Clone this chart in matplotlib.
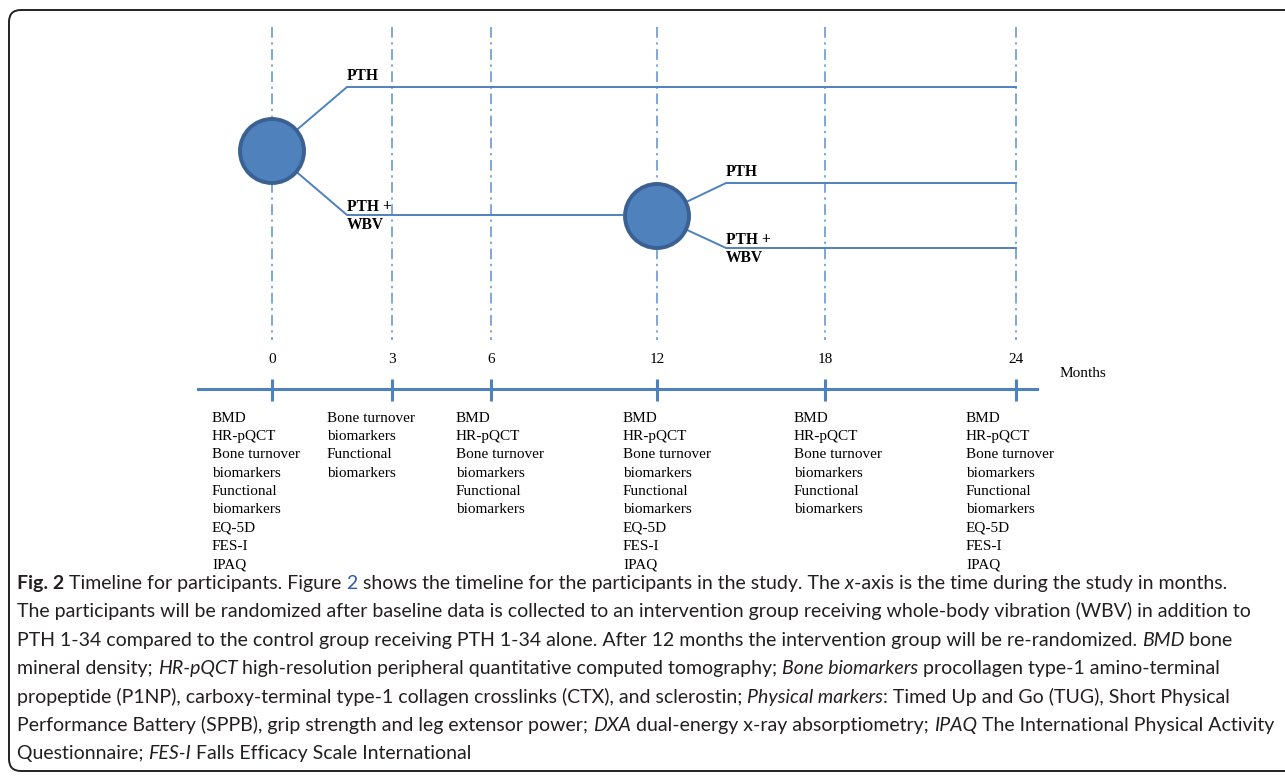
import matplotlib.pyplot as plt
from matplotlib.patches import Circle, FancyBboxPatch
from matplotlib.font_manager import FontProperties

# месяцы на шкале и их положение по горизонтали (в пикселях рисунка)
months = [0, 3, 6, 12, 18, 24]
month_x = [272, 392, 491, 657, 825, 1016]
text_x = [212, 327, 456, 623, 794, 966]

full_set = ['BMD', 'HR-pQCT', 'Bone turnover', 'biomarkers', 'Functional',
            'biomarkers', 'EQ-5D', 'FES-I', 'IPAQ']
short_set = ['BMD', 'HR-pQCT', 'Bone turnover', 'biomarkers', 'Functional',
             'biomarkers']
assessments = [
    full_set,
    ['Bone turnover', 'biomarkers', 'Functional', 'biomarkers'],
    short_set,
    full_set,
    short_set,
    full_set,
]

# рандомизации: месяц и высота кружка
rand_months = [0, 12]
rand_y = [151, 216]

# ветки: (индекс рандомизации, x излома, y ветки, x конца, подпись)
arms = [
    (0, 347, 87, 1016, 'PTH'),
    (0, 347, 215, 622, 'PTH +\nWBV'),
    (1, 726, 183, 1016, 'PTH'),
    (1, 726, 248, 1016, 'PTH +\nWBV'),
]

# подпись к рисунку: строки из кусков (текст, стиль)
caption = [
    [('Fig. 2', 'b'), (' Timeline for participants. Figure ', 'n'), ('2', 'link'),
     (' shows the timeline for the participants in the study. The ', 'n'), ('x', 'i'),
     ('-axis is the time during the study in months.', 'n')],
    [('The participants will be randomized after baseline data is collected to an '
      'intervention group receiving whole-body vibration (WBV) in addition to', 'n')],
    [('PTH 1-34 compared to the control group receiving PTH 1-34 alone. After 12 months '
      'the intervention group will be re-randomized. ', 'n'), ('BMD', 'i'), (' bone', 'n')],
    [('mineral density; ', 'n'), ('HR-pQCT', 'i'),
     (' high-resolution peripheral quantitative computed tomography; ', 'n'),
     ('Bone biomarkers', 'i'), (' procollagen type-1 amino-terminal', 'n')],
    [('propeptide (P1NP), carboxy-terminal type-1 collagen crosslinks (CTX), and sclerostin; ', 'n'),
     ('Physical markers', 'i'), (': Timed Up and Go (TUG), Short Physical', 'n')],
    [('Performance Battery (SPPB), grip strength and leg extensor power; ', 'n'), ('DXA', 'i'),
     (' dual-energy x-ray absorptiometry; ', 'n'), ('IPAQ', 'i'),
     (' The International Physical Activity', 'n')],
    [('Questionnaire; ', 'n'), ('FES-I', 'i'), (' Falls Efficacy Scale International', 'n')],
]

blue = '#4f81bd'
serif = 'Liberation Serif'
cap_font = 'Lato'

fig = plt.figure(figsize=(12.85, 7.76), dpi=100)
ax = fig.add_axes([0, 0, 1, 1])
ax.set_xlim(0, 1285)
ax.set_ylim(776, 0)
ax.axis('off')

# рамка
ax.add_patch(FancyBboxPatch((9, 10), 1300, 761, boxstyle='round,pad=0,rounding_size=12',
                            fill=False, ec='#222222', lw=1.4))

# пунктирные вертикали
ax.vlines(month_x, 27, 340, colors='#5b8fd0', lw=1.1, linestyles=(0, (7, 3, 1.5, 3)))

# ветки лечения
for r, xe, y, xend, label in arms:
    cx = month_x[months.index(rand_months[r])]
    cy = rand_y[r]
    ax.plot([cx, xe, xend], [cy, y, y], color=blue, lw=1.4, zorder=2)
    lines = label.split('\n')
    base = y - 7 if len(lines) == 1 else y - 4
    for k, s in enumerate(lines):
        ax.text(xe, base + k * 18.3, s, family=serif, weight='bold', fontsize=11.2,
                ha='left', va='baseline')

# кружки рандомизации
for m, cy in zip(rand_months, rand_y):
    ax.add_patch(Circle((month_x[months.index(m)], cy), 32, fc=blue, ec='#3a6192',
                        lw=2.8, zorder=3))

# шкала времени
ax.plot([198, 1037], [389, 389], color=blue, lw=2.2)
ax.vlines(month_x, 379, 401, colors=blue, lw=2.2)
for m, x in zip(months, month_x):
    ax.text(x, 363, str(m), family=serif, fontsize=11, ha='center', va='baseline')
ax.text(1060, 377, 'Months', family=serif, fontsize=11, ha='left', va='baseline')

for x, items in zip(text_x, assessments):
    for j, s in enumerate(items):
        ax.text(x, 421.7 + j * 18.33, s, family=serif, fontsize=11,
                ha='left', va='baseline')

# подпись
renderer = fig.canvas.get_renderer()


def props(style, size):
    fp = FontProperties(family=cap_font, size=size)
    if style == 'b':
        fp.set_weight('bold')
    if style == 'i':
        fp.set_style('italic')
    return fp


def seg_width(s, fp):
    w, _, _ = renderer.get_text_width_height_descent('|' + s + '|', fp, ismath=False)
    w0, _, _ = renderer.get_text_width_height_descent('||', fp, ismath=False)
    return w - w0


def line_width(line, size):
    return sum(seg_width(s, props(st, size)) for s, st in line)


cap_size = min(12 * 1250 / line_width(line, 12) for line in caption)

for i, line in enumerate(caption):
    x = 17
    y = 589 + i * 28.4
    for s, style in line:
        fp = props(style, cap_size)
        color = '#2a5db0' if style == 'link' else '#231f20'
        ax.text(x, y, s, fontproperties=fp, color=color, ha='left', va='baseline')
        x += seg_width(s, fp)

fig.savefig('out.png', dpi=100)
